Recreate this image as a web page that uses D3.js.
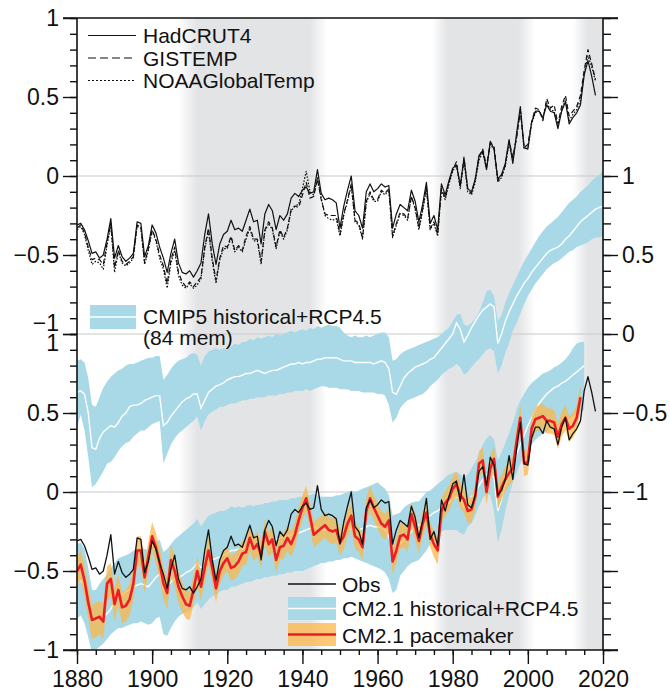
<!DOCTYPE html>
<html><head><meta charset="utf-8">
<script src="https://cdn.jsdelivr.net/npm/d3@7"></script>
<style>
body{margin:0;background:#fff;}
text{font-family:"Liberation Sans",Arial,Helvetica,sans-serif;fill:#111;}
</style></head>
<body>
<script>
// ---------------- DATA ----------------
const obsStart = 1880;   // top-panel observations 1880-2018
const hadcrut4 = [
-0.31,-0.30,-0.34,-0.41,-0.49,-0.48,-0.52,-0.50,-0.40,-0.27,
-0.52,-0.44,-0.51,-0.54,-0.52,-0.49,-0.29,-0.30,-0.51,-0.44,
-0.31,-0.36,-0.45,-0.52,-0.61,-0.49,-0.40,-0.55,-0.61,-0.62,
-0.60,-0.64,-0.60,-0.55,-0.37,-0.24,-0.43,-0.56,-0.43,-0.37,
-0.35,-0.28,-0.34,-0.33,-0.35,-0.28,-0.21,-0.29,-0.28,-0.43,
-0.24,-0.18,-0.22,-0.34,-0.25,-0.28,-0.24,-0.14,-0.11,-0.13,
-0.09,-0.07,-0.11,-0.10,0.04,-0.11,-0.15,-0.14,-0.15,-0.17,
-0.33,-0.19,-0.09,0.00,-0.22,-0.25,-0.33,-0.10,-0.05,-0.10,
-0.08,-0.05,-0.07,-0.06,-0.33,-0.24,-0.18,-0.20,-0.22,-0.09,
-0.16,-0.29,-0.18,-0.04,-0.30,-0.25,-0.34,-0.05,-0.12,-0.03,
0.05,0.07,-0.06,0.11,-0.08,-0.10,-0.02,0.13,0.16,0.04,
0.22,0.17,-0.02,0.01,0.08,0.23,0.08,0.27,0.44,0.18,
0.17,0.34,0.41,0.41,0.37,0.45,0.41,0.40,0.30,0.41,
0.47,0.33,0.37,0.40,0.45,0.64,0.73,0.63,0.51];
const gistemp = [
-0.33,-0.31,-0.36,-0.45,-0.53,-0.52,-0.53,-0.56,-0.42,-0.30,
-0.58,-0.47,-0.54,-0.56,-0.54,-0.51,-0.31,-0.32,-0.55,-0.46,
-0.34,-0.40,-0.50,-0.57,-0.68,-0.53,-0.45,-0.61,-0.67,-0.70,
-0.67,-0.70,-0.67,-0.64,-0.45,-0.33,-0.52,-0.66,-0.52,-0.44,
-0.45,-0.38,-0.47,-0.44,-0.47,-0.38,-0.32,-0.40,-0.40,-0.54,
-0.34,-0.29,-0.33,-0.45,-0.34,-0.39,-0.33,-0.21,-0.19,-0.20,
-0.12,-0.04,-0.14,-0.13,-0.02,-0.15,-0.24,-0.25,-0.25,-0.25,
-0.37,-0.24,-0.15,-0.05,-0.28,-0.30,-0.39,-0.16,-0.10,-0.15,
-0.15,-0.09,-0.11,-0.08,-0.38,-0.30,-0.23,-0.24,-0.27,-0.13,
-0.20,-0.33,-0.21,-0.07,-0.33,-0.29,-0.37,-0.08,-0.14,-0.04,
0.04,0.09,-0.07,0.12,-0.09,-0.11,-0.02,0.12,0.17,0.06,
0.21,0.19,-0.03,0.00,0.07,0.22,0.12,0.24,0.41,0.18,
0.20,0.34,0.43,0.42,0.35,0.49,0.43,0.45,0.33,0.44,
0.51,0.38,0.41,0.44,0.51,0.67,0.80,0.71,0.61];
const noaaGlobalTemp = [
-0.34,-0.32,-0.37,-0.47,-0.56,-0.54,-0.55,-0.59,-0.44,-0.31,
-0.61,-0.48,-0.55,-0.57,-0.55,-0.52,-0.32,-0.33,-0.56,-0.47,
-0.35,-0.41,-0.52,-0.59,-0.71,-0.55,-0.47,-0.63,-0.69,-0.71,
-0.68,-0.71,-0.69,-0.65,-0.46,-0.35,-0.54,-0.68,-0.53,-0.46,
-0.46,-0.39,-0.48,-0.45,-0.48,-0.40,-0.33,-0.41,-0.41,-0.56,
-0.35,-0.30,-0.34,-0.46,-0.35,-0.40,-0.34,-0.22,-0.19,-0.18,
-0.08,0.03,-0.10,-0.12,-0.01,-0.14,-0.25,-0.27,-0.28,-0.27,
-0.38,-0.25,-0.16,-0.06,-0.29,-0.31,-0.40,-0.17,-0.11,-0.16,
-0.16,-0.10,-0.12,-0.09,-0.39,-0.31,-0.24,-0.25,-0.28,-0.13,
-0.21,-0.34,-0.22,-0.08,-0.34,-0.30,-0.38,-0.09,-0.15,-0.05,
0.03,0.07,-0.08,0.10,-0.10,-0.12,-0.04,0.10,0.15,0.05,
0.20,0.17,-0.04,-0.01,0.06,0.21,0.10,0.25,0.42,0.17,
0.18,0.33,0.40,0.41,0.36,0.46,0.42,0.41,0.32,0.42,
0.48,0.35,0.39,0.42,0.48,0.65,0.76,0.69,0.60];

// middle panel (right axis): CMIP5 historical+RCP4.5, 84 members, 1880-2020
const cmipStart = 1880;
const cmip5Mean = [
-0.37,-0.36,-0.38,-0.50,-0.72,-0.73,-0.66,-0.62,-0.60,-0.58,
-0.59,-0.56,-0.52,-0.50,-0.46,-0.45,-0.45,-0.44,-0.42,-0.41,
-0.40,-0.39,-0.39,-0.58,-0.56,-0.52,-0.49,-0.46,-0.43,-0.41,
-0.40,-0.38,-0.38,-0.47,-0.42,-0.37,-0.35,-0.33,-0.32,-0.31,
-0.29,-0.28,-0.27,-0.27,-0.26,-0.25,-0.25,-0.24,-0.23,-0.24,
-0.25,-0.24,-0.23,-0.23,-0.22,-0.21,-0.20,-0.19,-0.19,-0.18,
-0.19,-0.18,-0.18,-0.17,-0.16,-0.16,-0.15,-0.15,-0.15,-0.15,
-0.16,-0.17,-0.17,-0.17,-0.18,-0.18,-0.18,-0.18,-0.18,-0.19,
-0.18,-0.17,-0.18,-0.22,-0.37,-0.38,-0.33,-0.28,-0.25,-0.23,
-0.21,-0.20,-0.19,-0.18,-0.16,-0.15,-0.12,-0.09,-0.06,-0.03,
0.00,0.07,0.03,-0.05,-0.01,0.04,0.08,0.12,0.15,0.17,
0.19,0.17,-0.06,0.00,0.08,0.14,0.19,0.24,0.28,0.32,
0.35,0.39,0.42,0.45,0.48,0.51,0.53,0.54,0.55,0.57,
0.60,0.62,0.65,0.68,0.71,0.73,0.75,0.77,0.79,0.80,0.81];
const cmip5Hi = [
-0.17,-0.16,-0.18,-0.28,-0.45,-0.46,-0.40,-0.34,-0.30,-0.27,
-0.25,-0.23,-0.22,-0.20,-0.19,-0.19,-0.18,-0.17,-0.16,-0.15,
-0.15,-0.14,-0.14,-0.29,-0.26,-0.22,-0.19,-0.17,-0.16,-0.15,
-0.13,-0.12,-0.13,-0.20,-0.14,-0.11,-0.10,-0.09,-0.10,-0.09,
-0.10,-0.08,-0.06,-0.07,-0.05,-0.05,-0.03,-0.04,-0.02,-0.03,
-0.02,-0.01,-0.02,0.00,-0.01,0.00,0.01,0.02,0.01,0.02,
0.03,0.02,0.04,0.03,0.05,0.04,0.05,0.06,0.05,0.05,
0.04,0.01,-0.01,-0.02,-0.01,-0.02,-0.02,-0.01,-0.02,-0.01,
0.00,0.01,0.01,-0.02,-0.17,-0.16,-0.13,-0.11,-0.10,-0.09,
-0.08,-0.07,-0.06,-0.05,-0.04,-0.03,-0.02,0.00,0.02,0.04,
0.08,0.12,0.13,0.06,0.05,0.07,0.10,0.14,0.20,0.27,
0.28,0.24,0.08,0.12,0.20,0.26,0.31,0.36,0.41,0.46,
0.50,0.54,0.58,0.62,0.65,0.68,0.70,0.72,0.74,0.77,
0.80,0.83,0.85,0.87,0.90,0.92,0.94,0.97,0.99,1.01,1.03];
const cmip5Lo = [
-0.59,-0.51,-0.61,-0.78,-0.97,-0.95,-0.91,-0.87,-0.82,-0.81,
-0.78,-0.74,-0.71,-0.69,-0.68,-0.65,-0.63,-0.61,-0.61,-0.59,
-0.57,-0.56,-0.55,-0.82,-0.76,-0.70,-0.66,-0.63,-0.61,-0.59,
-0.57,-0.55,-0.52,-0.61,-0.55,-0.51,-0.49,-0.48,-0.46,-0.46,
-0.45,-0.44,-0.44,-0.43,-0.42,-0.42,-0.41,-0.41,-0.40,-0.40,
-0.40,-0.39,-0.39,-0.39,-0.38,-0.38,-0.37,-0.37,-0.36,-0.36,
-0.36,-0.35,-0.36,-0.35,-0.34,-0.33,-0.33,-0.34,-0.34,-0.34,
-0.35,-0.35,-0.35,-0.36,-0.36,-0.36,-0.37,-0.37,-0.37,-0.37,
-0.38,-0.38,-0.39,-0.45,-0.56,-0.53,-0.47,-0.44,-0.42,-0.41,
-0.40,-0.39,-0.38,-0.36,-0.33,-0.31,-0.29,-0.26,-0.24,-0.22,
-0.21,-0.19,-0.21,-0.26,-0.24,-0.21,-0.18,-0.16,-0.13,-0.10,
-0.09,-0.11,-0.25,-0.20,-0.12,-0.06,0.02,0.07,0.13,0.19,
0.24,0.28,0.32,0.35,0.38,0.41,0.43,0.45,0.46,0.48,
0.50,0.52,0.53,0.55,0.56,0.57,0.58,0.60,0.61,0.61,0.62];

// bottom panel: CM2.1 historical+RCP4.5 ensemble, 1880-2015
const cm21Start = 1880;
const cm21Mean = [
-0.58,-0.56,-0.60,-0.70,-0.82,-0.82,-0.80,-0.79,-0.77,-0.74,
-0.70,-0.66,-0.65,-0.63,-0.62,-0.60,-0.59,-0.58,-0.59,-0.60,
-0.57,-0.54,-0.52,-0.62,-0.60,-0.57,-0.55,-0.54,-0.53,-0.51,
-0.50,-0.48,-0.45,-0.48,-0.46,-0.44,-0.43,-0.42,-0.41,-0.40,
-0.39,-0.37,-0.37,-0.36,-0.36,-0.35,-0.35,-0.35,-0.34,-0.33,
-0.33,-0.32,-0.31,-0.30,-0.29,-0.28,-0.28,-0.27,-0.26,-0.26,
-0.25,-0.24,-0.23,-0.22,-0.23,-0.24,-0.24,-0.25,-0.25,-0.25,
-0.25,-0.24,-0.24,-0.23,-0.24,-0.24,-0.23,-0.22,-0.21,-0.22,
-0.22,-0.23,-0.24,-0.28,-0.38,-0.37,-0.33,-0.30,-0.28,-0.25,
-0.22,-0.21,-0.19,-0.16,-0.15,-0.13,-0.12,-0.10,-0.08,-0.07,
-0.04,-0.03,-0.05,-0.10,-0.07,-0.03,0.00,0.04,0.08,0.11,
0.13,0.09,-0.12,-0.05,0.04,0.10,0.17,0.24,0.30,0.36,
0.42,0.47,0.52,0.56,0.59,0.62,0.64,0.66,0.67,0.69,
0.70,0.72,0.74,0.76,0.78,0.80];
const cm21Hi = [
-0.33,-0.32,-0.36,-0.48,-0.62,-0.62,-0.58,-0.55,-0.52,-0.48,
-0.45,-0.42,-0.41,-0.40,-0.39,-0.37,-0.36,-0.35,-0.36,-0.37,
-0.35,-0.32,-0.30,-0.38,-0.36,-0.33,-0.30,-0.28,-0.26,-0.24,
-0.22,-0.20,-0.17,-0.22,-0.18,-0.15,-0.14,-0.13,-0.12,-0.12,
-0.11,-0.09,-0.10,-0.09,-0.10,-0.09,-0.08,-0.09,-0.08,-0.08,
-0.07,-0.07,-0.06,-0.06,-0.05,-0.05,-0.05,-0.04,-0.04,-0.03,
-0.03,-0.02,-0.02,-0.01,-0.02,-0.03,-0.03,-0.03,-0.03,-0.02,
-0.02,-0.01,0.00,0.01,0.00,0.01,0.02,0.03,0.04,0.05,
0.06,0.04,0.02,-0.02,-0.15,-0.14,-0.13,-0.10,-0.08,-0.07,
-0.06,-0.06,-0.03,0.00,0.01,0.03,0.05,0.07,0.09,0.11,
0.12,0.13,0.11,0.09,0.11,0.15,0.19,0.24,0.30,0.34,
0.36,0.33,0.20,0.25,0.31,0.37,0.44,0.52,0.58,0.62,
0.66,0.69,0.71,0.73,0.75,0.76,0.77,0.79,0.80,0.82,
0.84,0.87,0.91,0.94,0.95,0.95];
const cm21Lo = [
-0.80,-0.78,-0.83,-0.92,-1.02,-1.00,-0.98,-0.96,-0.93,-0.90,
-0.88,-0.86,-0.86,-0.85,-0.84,-0.83,-0.83,-0.82,-0.83,-0.84,
-0.83,-0.80,-0.79,-0.90,-0.91,-0.86,-0.82,-0.79,-0.77,-0.76,
-0.75,-0.73,-0.70,-0.74,-0.71,-0.68,-0.66,-0.65,-0.63,-0.62,
-0.62,-0.60,-0.60,-0.59,-0.58,-0.57,-0.57,-0.56,-0.55,-0.55,
-0.54,-0.54,-0.53,-0.53,-0.52,-0.52,-0.51,-0.51,-0.50,-0.50,
-0.50,-0.49,-0.48,-0.47,-0.46,-0.45,-0.45,-0.44,-0.44,-0.43,
-0.43,-0.42,-0.42,-0.41,-0.42,-0.43,-0.44,-0.45,-0.46,-0.47,
-0.48,-0.49,-0.51,-0.55,-0.64,-0.62,-0.53,-0.50,-0.47,-0.45,
-0.44,-0.43,-0.40,-0.37,-0.33,-0.31,-0.29,-0.25,-0.24,-0.24,
-0.24,-0.24,-0.26,-0.27,-0.22,-0.20,-0.15,-0.09,-0.04,-0.01,
-0.02,-0.12,-0.32,-0.24,-0.12,-0.02,0.06,0.12,0.18,0.23,
0.27,0.30,0.33,0.35,0.37,0.38,0.40,0.41,0.42,0.44,
0.45,0.46,0.48,0.50,0.51,0.52];

// bottom panel: CM2.1 pacemaker ensemble, 1880-2014
const paceStart = 1880;
const paceMean = [
-0.50,-0.46,-0.56,-0.70,-0.81,-0.80,-0.79,-0.82,-0.58,-0.55,
-0.71,-0.62,-0.73,-0.72,-0.68,-0.58,-0.37,-0.37,-0.54,-0.41,
-0.28,-0.35,-0.45,-0.58,-0.64,-0.43,-0.50,-0.60,-0.66,-0.71,
-0.72,-0.62,-0.50,-0.60,-0.48,-0.37,-0.48,-0.61,-0.50,-0.45,
-0.42,-0.48,-0.47,-0.44,-0.39,-0.38,-0.29,-0.36,-0.33,-0.40,
-0.25,-0.33,-0.30,-0.43,-0.35,-0.34,-0.29,-0.33,-0.27,-0.18,
-0.10,-0.04,-0.15,-0.27,-0.25,-0.23,-0.21,-0.24,-0.25,-0.24,
-0.32,-0.28,-0.20,-0.15,-0.28,-0.30,-0.35,-0.12,-0.04,-0.10,
-0.15,-0.20,-0.22,-0.18,-0.44,-0.37,-0.28,-0.27,-0.30,-0.14,
-0.22,-0.31,-0.20,-0.13,-0.27,-0.33,-0.37,-0.12,-0.07,-0.04,
0.02,0.05,-0.02,-0.05,-0.12,-0.11,-0.03,0.18,0.20,0.00,
0.15,0.21,-0.03,0.03,0.08,0.12,0.15,0.32,0.47,0.18,
0.19,0.40,0.46,0.47,0.48,0.45,0.45,0.44,0.35,0.43,
0.47,0.40,0.42,0.47,0.60];
const paceHi = [
-0.41,-0.37,-0.46,-0.60,-0.72,-0.70,-0.69,-0.71,-0.47,-0.45,
-0.61,-0.52,-0.63,-0.62,-0.58,-0.48,-0.28,-0.28,-0.44,-0.31,
-0.19,-0.26,-0.35,-0.48,-0.54,-0.33,-0.40,-0.50,-0.57,-0.62,
-0.63,-0.53,-0.41,-0.51,-0.39,-0.28,-0.39,-0.52,-0.42,-0.37,
-0.34,-0.40,-0.39,-0.36,-0.31,-0.30,-0.21,-0.28,-0.25,-0.32,
-0.17,-0.25,-0.22,-0.35,-0.27,-0.26,-0.21,-0.25,-0.19,-0.10,
-0.02,0.04,-0.07,-0.19,-0.17,-0.15,-0.13,-0.16,-0.17,-0.16,
-0.24,-0.20,-0.12,-0.07,-0.20,-0.22,-0.27,-0.04,0.04,-0.02,
-0.07,-0.12,-0.14,-0.10,-0.36,-0.29,-0.20,-0.19,-0.22,-0.06,
-0.14,-0.23,-0.12,-0.05,-0.19,-0.25,-0.28,-0.04,0.01,0.04,
0.10,0.13,0.06,0.03,-0.04,-0.03,0.05,0.26,0.28,0.08,
0.23,0.29,0.05,0.11,0.16,0.20,0.23,0.40,0.55,0.26,
0.27,0.48,0.54,0.55,0.56,0.53,0.53,0.52,0.43,0.51,
0.55,0.48,0.50,0.55,0.68];
const paceLo = [
-0.60,-0.56,-0.66,-0.80,-0.93,-0.92,-0.90,-0.93,-0.69,-0.66,
-0.81,-0.72,-0.83,-0.82,-0.78,-0.68,-0.47,-0.47,-0.64,-0.51,
-0.37,-0.45,-0.55,-0.68,-0.74,-0.53,-0.60,-0.70,-0.76,-0.80,
-0.81,-0.71,-0.59,-0.69,-0.57,-0.46,-0.57,-0.70,-0.58,-0.53,
-0.50,-0.56,-0.55,-0.52,-0.47,-0.46,-0.37,-0.44,-0.41,-0.48,
-0.33,-0.41,-0.38,-0.51,-0.43,-0.42,-0.37,-0.41,-0.35,-0.26,
-0.18,-0.12,-0.23,-0.35,-0.33,-0.31,-0.29,-0.32,-0.33,-0.32,
-0.40,-0.36,-0.28,-0.23,-0.36,-0.38,-0.43,-0.20,-0.12,-0.18,
-0.23,-0.28,-0.30,-0.26,-0.52,-0.45,-0.36,-0.35,-0.38,-0.22,
-0.30,-0.39,-0.28,-0.21,-0.35,-0.41,-0.46,-0.20,-0.15,-0.12,
-0.06,-0.03,-0.10,-0.13,-0.20,-0.19,-0.11,0.10,0.12,-0.08,
0.07,0.13,-0.11,-0.05,0.00,0.04,0.07,0.24,0.39,0.10,
0.11,0.32,0.38,0.39,0.40,0.37,0.37,0.36,0.27,0.35,
0.39,0.32,0.34,0.39,0.52];

// grey shading periods: [fade-in start, full start, full end, fade-out end]
const shadePeriods = [[1907,1912,1942,1946.5],[1974.5,1978.5,1997.5,2002],[2012,2016,2020,2020]];

const xTicks = [1880,1900,1920,1940,1960,1980,2000,2020];
const leftTicks = [-1,-0.5,0,0.5,1];
const rightLabelTicks = [-1,-0.5,0,0.5,1];
const rightMajorTicks = [-2,-1.5,-1,-0.5,0,0.5,1,1.5,2];

const legendTop = ["HadCRUT4","GISTEMP","NOAAGlobalTemp"];
const legendCmip = ["CMIP5 historical+RCP4.5","(84 mem)"];
const legendBottom = ["Obs","CM2.1 historical+RCP4.5","CM2.1 pacemaker"];

// ---------------- DRAW ----------------
const W=670,H=693, L=77, R=603, T=18, B=650;
const BLUE="#a9d9e6", ORANGE="#fdb443", RED="#ee1c25", GREY="#e3e4e6";
const svg=d3.select("body").append("svg").attr("width",W).attr("height",H);
const defs=svg.append("defs");

const x=d3.scaleLinear().domain([1880,2020]).range([L,R]);
const yTop=d3.scaleLinear().domain([-1,1]).range([334,T]);
const yMid=d3.scaleLinear().domain([-2,2]).range([B,T]);
const yBot=d3.scaleLinear().domain([-1,1]).range([B,334]);

defs.append("clipPath").attr("id","plot").append("rect")
  .attr("x",L).attr("y",T).attr("width",R-L).attr("height",B-T);

// shading
const gIn=defs.append("linearGradient").attr("id","fadeIn");
gIn.append("stop").attr("offset","0").attr("stop-color",GREY).attr("stop-opacity",0);
gIn.append("stop").attr("offset","1").attr("stop-color",GREY).attr("stop-opacity",1);
const gOut=defs.append("linearGradient").attr("id","fadeOut");
gOut.append("stop").attr("offset","0").attr("stop-color",GREY).attr("stop-opacity",1);
gOut.append("stop").attr("offset","1").attr("stop-color",GREY).attr("stop-opacity",0);
const shade=svg.append("g");
shadePeriods.forEach(p=>{
  shade.append("rect").attr("x",x(p[0])).attr("y",T).attr("width",x(p[1])-x(p[0])).attr("height",B-T).attr("fill","url(#fadeIn)");
  shade.append("rect").attr("x",x(p[1])-0.5).attr("y",T).attr("width",x(p[2])-x(p[1])+1).attr("height",B-T).attr("fill",GREY);
  if(p[3]>p[2]) shade.append("rect").attr("x",x(p[2])).attr("y",T).attr("width",x(p[3])-x(p[2])).attr("height",B-T).attr("fill","url(#fadeOut)");
});

// zero / panel grid lines
svg.append("g").selectAll("line").data([yTop(0),yMid(0),yBot(0)]).join("line")
  .attr("x1",L).attr("x2",R).attr("y1",d=>d).attr("y2",d=>d)
  .attr("stroke","#c9c9c9").attr("stroke-width",1);

const plot=svg.append("g").attr("clip-path","url(#plot)");
const series=(start,arr)=>arr.map((v,i)=>[start+i,v]);
const bandPts=(start,lo,hi)=>lo.map((v,i)=>[start+i,v,hi[i]]);
const area=ys=>d3.area().x(d=>x(d[0])).y0(d=>ys(d[1])).y1(d=>ys(d[2]));
const line=ys=>d3.line().x(d=>x(d[0])).y(d=>ys(d[1]));

// middle panel CMIP5
plot.append("path").attr("d",area(yMid)(bandPts(cmipStart,cmip5Lo,cmip5Hi))).attr("fill",BLUE);
plot.append("path").attr("d",line(yMid)(series(cmipStart,cmip5Mean))).attr("fill","none").attr("stroke","#fff").attr("stroke-width",1.4);

// bottom panel CM2.1 historical
plot.append("path").attr("d",area(yBot)(bandPts(cm21Start,cm21Lo,cm21Hi))).attr("fill",BLUE);
plot.append("path").attr("d",line(yBot)(series(cm21Start,cm21Mean))).attr("fill","none").attr("stroke","#fff").attr("stroke-width",1.4);
// pacemaker
plot.append("path").attr("d",area(yBot)(bandPts(paceStart,paceLo,paceHi))).attr("fill",ORANGE).attr("fill-opacity",0.72);
plot.append("path").attr("d",line(yBot)(series(paceStart,paceMean))).attr("fill","none").attr("stroke",RED).attr("stroke-width",2.6).attr("stroke-linejoin","round");
// obs in bottom panel
plot.append("path").attr("d",line(yBot)(series(obsStart,hadcrut4))).attr("fill","none").attr("stroke","#111").attr("stroke-width",1.3).attr("stroke-linejoin","round");

// top panel observations
const topStyles=[{arr:hadcrut4,dash:null},{arr:gistemp,dash:"5,3"},{arr:noaaGlobalTemp,dash:"1.6,1.6"}];
topStyles.slice().reverse().forEach(s=>{
  plot.append("path").attr("d",line(yTop)(series(obsStart,s.arr))).attr("fill","none")
    .attr("stroke","#111").attr("stroke-width",1.2).attr("stroke-dasharray",s.dash).attr("stroke-linejoin","round");
});

// ---------- axes ----------
const fmt=v=>(v<0?"\u2212":"")+Math.abs(v);
const ax=svg.append("g").attr("font-size",23);
function styleAxis(g){g.select(".domain").remove();g.selectAll("line").attr("stroke","#111").attr("stroke-width",1.4);
  g.selectAll("text").attr("fill","#111").style("font-family",'"Liberation Sans",Arial,sans-serif').style("font-size","23px");}

// left: top panel & bottom panel
const minorL=d3.range(-10,11).map(d=>d/10);
[yTop,yBot].forEach((ys,k)=>{
  ax.append("g").attr("transform",`translate(${L},0)`).call(d3.axisLeft(ys).tickValues(minorL).tickSize(7).tickFormat("")).call(styleAxis);
  const g=ax.append("g").attr("transform",`translate(${L},0)`).call(d3.axisLeft(ys).tickValues(leftTicks).tickSize(14).tickPadding(4).tickFormat(fmt)).call(styleAxis);
  g.selectAll(".tick text").filter(d=>(k===0&&d===-1)||(k===1&&d===1)).attr("dy",k===0?"-0.16em":"0.73em");
});
// right
const minorR=d3.range(-20,21).map(d=>d/10);
ax.append("g").attr("transform",`translate(${R},0)`).call(d3.axisRight(yMid).tickValues(minorR).tickSize(8).tickFormat("")).call(styleAxis);
ax.append("g").attr("transform",`translate(${R},0)`).call(d3.axisRight(yMid).tickValues(rightMajorTicks).tickSize(15).tickPadding(4).tickFormat(d=>rightLabelTicks.includes(d)?fmt(d):"")).call(styleAxis);
// bottom
ax.append("g").attr("transform",`translate(0,${B})`).call(d3.axisBottom(x).tickValues(d3.range(1880,2021,5)).tickSize(5).tickFormat("")).call(styleAxis);
ax.append("g").attr("transform",`translate(0,${B})`).call(d3.axisBottom(x).tickValues(xTicks).tickSize(14).tickPadding(7).tickFormat(d3.format("d"))).call(styleAxis);
// frame
const fr=svg.append("g").attr("stroke","#111").attr("stroke-width",1.6);
fr.append("line").attr("x1",L-14).attr("x2",R+15).attr("y1",T).attr("y2",T);
fr.append("line").attr("x1",L-14).attr("x2",R+15).attr("y1",B).attr("y2",B);
fr.append("line").attr("x1",L).attr("x2",L).attr("y1",T).attr("y2",B);
fr.append("line").attr("x1",R).attr("x2",R).attr("y1",T).attr("y2",B);

// ---------- legends ----------
const lg=svg.append("g").attr("font-size",21);
const dashes=[null,"8,4","2,2"];
legendTop.forEach((t,i)=>{
  const yy=35.5+i*22.5;
  lg.append("line").attr("x1",88).attr("x2",136).attr("y1",yy).attr("y2",yy).attr("stroke","#111").attr("stroke-width",1.2).attr("stroke-dasharray",dashes[i]);
  lg.append("text").attr("x",143).attr("y",yy+7.5).text(t);
});
lg.append("rect").attr("x",90).attr("y",305).attr("width",46).attr("height",24).attr("fill",BLUE);
lg.append("line").attr("x1",90).attr("x2",136).attr("y1",317).attr("y2",317).attr("stroke","#fff").attr("stroke-width",1.4);
lg.append("text").attr("x",143).attr("y",324).text(legendCmip[0]);
lg.append("text").attr("x",143).attr("y",345).text(legendCmip[1]);

lg.append("line").attr("x1",288).attr("x2",336).attr("y1",584).attr("y2",584).attr("stroke","#111").attr("stroke-width",1.3);
lg.append("rect").attr("x",288).attr("y",597).attr("width",48).attr("height",23).attr("fill",BLUE);
lg.append("line").attr("x1",288).attr("x2",336).attr("y1",608.5).attr("y2",608.5).attr("stroke","#fff").attr("stroke-width",1.4);
lg.append("rect").attr("x",288).attr("y",623).attr("width",48).attr("height",23).attr("fill",ORANGE).attr("fill-opacity",0.72);
lg.append("line").attr("x1",288).attr("x2",336).attr("y1",634.5).attr("y2",634.5).attr("stroke",RED).attr("stroke-width",2.4);
legendBottom.forEach((t,i)=>{
  lg.append("text").attr("x",342).attr("y",[592,616,643][i]).text(t);
});
</script>
</body></html>
